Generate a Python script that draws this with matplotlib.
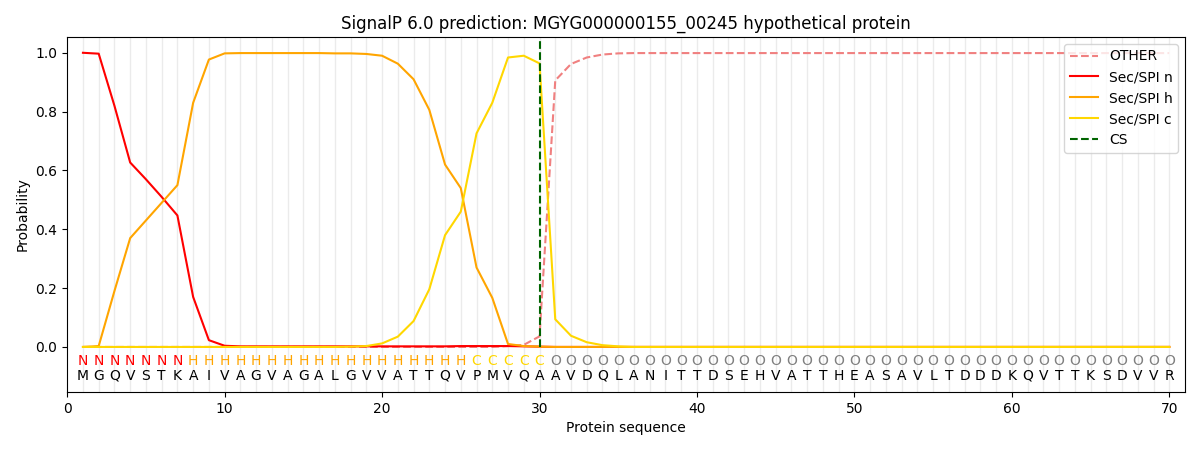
import numpy as np
import matplotlib
matplotlib.use("Agg")
import matplotlib.pyplot as plt

seq = "MGQVSTKAIVAGVAGALGVVATTQVPMVQAAVDQLANITTDSEHVATTHEASAVLTDDDKQVTTKSDVVR"
labels = "N" * 7 + "H" * 18 + "C" * 5 + "O" * 40
cs_pos = 30

# probabilities per residue
sp_n = [1.0, 0.997, 0.82, 0.627, 0.57, 0.51, 0.447, 0.17, 0.023, 0.004,
        0.002, 0.002, 0.002, 0.002, 0.002, 0.002, 0.002, 0.002, 0.002, 0.002,
        0.002, 0.002, 0.002, 0.002, 0.003, 0.003, 0.003, 0.003, 0.002, 0.001] + [0.0] * 40
sp_h = [0.0, 0.003, 0.19, 0.37, 0.43, 0.49, 0.55, 0.83, 0.977, 0.998,
        0.999, 0.999, 0.999, 0.999, 0.999, 0.999, 0.998, 0.998, 0.996, 0.99,
        0.963, 0.91, 0.806, 0.62, 0.54, 0.27, 0.167, 0.01, 0.003, 0.001] + [0.0] * 40
sp_c = [0.0, 0.0, 0.0, 0.0, 0.0, 0.0, 0.0, 0.0, 0.0, 0.0,
        0.0, 0.0, 0.0, 0.0, 0.0, 0.0, 0.0, 0.001, 0.003, 0.012,
        0.035, 0.088, 0.196, 0.38, 0.46, 0.726, 0.83, 0.984, 0.99, 0.964,
        0.094, 0.038, 0.016, 0.006, 0.002] + [0.0] * 35
other = [0.0] * 27 + [0.003, 0.007, 0.036,
         0.906, 0.962, 0.984, 0.994, 0.998] + [0.999] * 35

pos = np.arange(1, len(seq) + 1)

fig, ax = plt.subplots(figsize=(12, 4.5), dpi=100)
fig.subplots_adjust(left=0.056, right=0.9875, top=0.918, bottom=0.129)

for p in pos:
    ax.axvline(p, color="#ebebeb", lw=1, zorder=0)

ax.plot(pos, other, color="lightcoral", ls="--", label="OTHER")
ax.plot(pos, sp_n, color="red", label="Sec/SPI n")
ax.plot(pos, sp_h, color="orange", label="Sec/SPI h")
ax.plot(pos, sp_c, color="gold", label="Sec/SPI c")
ax.vlines(cs_pos, 0, 1.04, color="darkgreen", ls="--", label="CS")

lab_colors = {"N": "red", "H": "orange", "C": "gold", "O": "gray"}
for p, aa, lab in zip(pos, seq, labels):
    ax.text(p, -0.047, lab, color=lab_colors[lab], ha="center", va="center", fontsize=10)
    ax.text(p, -0.098, aa, color="black", ha="center", va="center", fontsize=10)

ax.set_xlim(0, 71)
ax.set_ylim(-0.153, 1.054)
ax.set_xlabel("Protein sequence")
ax.set_ylabel("Probability")
ax.set_title("SignalP 6.0 prediction: MGYG000000155_00245 hypothetical protein")
ax.legend(loc="upper right")

plt.savefig("out.png")
